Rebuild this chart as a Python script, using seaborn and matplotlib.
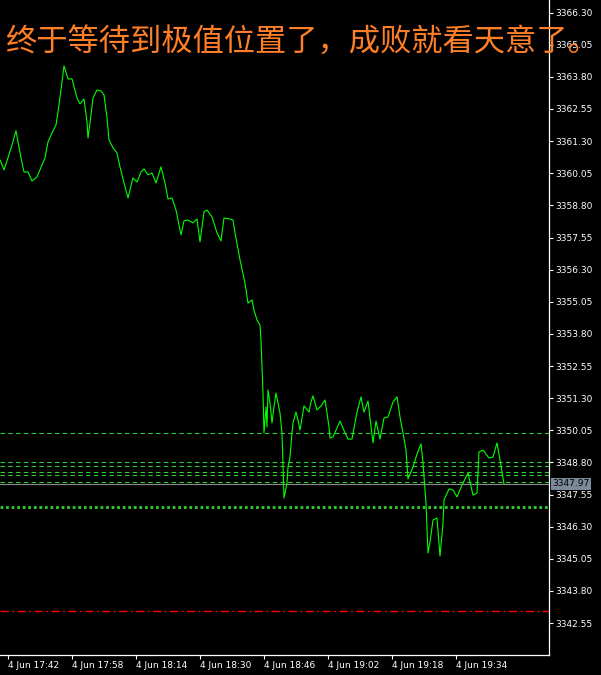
import pandas as pd
import matplotlib
matplotlib.use("Agg")
import matplotlib.pyplot as plt
import seaborn as sns

# price line (minutes after 4 Jun 17:40, price)
minutes = [0, 1, 2, 3, 4, 4.5, 5.25, 6, 7, 8, 9.25, 10.5, 11.25, 12, 13, 14, 14.5, 15.25, 16, 17,
           18, 19.25, 20, 21, 21.75, 22, 22.75, 23.25, 24.25, 25.25, 26, 26.75, 27.25, 28.25, 29.25, 30,
           31, 32, 33.25, 34.25, 35.25, 36, 37, 38, 39, 40.25, 41.25, 42, 43, 44, 45.25, 46, 47, 48.25,
           49.25, 50, 51, 51.75, 53, 54.25, 55.25, 56, 57.5, 58.25, 58.75, 60, 61.25, 62, 63, 63.5,
           64.25, 65, 65.25, 65.5, 65.75, 66, 66.25, 66.5, 66.75, 67, 67.5, 68, 68.5, 69, 69.5, 70,
           70.5, 70.75, 71, 71.75, 72, 72.5, 73, 73.25, 74, 74.5, 75, 76, 77.25, 77.75, 78.25, 79.25,
           80.25, 81.25, 81.75, 82.25, 82.5, 83.25, 85, 86.25, 87, 88, 89.25, 90.25, 91, 92, 93.25, 94,
           95, 96, 97, 98.25, 99.25, 100, 100.75, 101.5, 102, 103.25, 104.25, 105.25, 105.75, 106.5,
           107, 107.5, 108.25, 109.25, 109.75, 110, 110.75, 111, 112.25, 113.25, 114.25, 115.5, 117,
           118.25, 119.25, 119.75, 120.75, 122.25, 123.25, 124.25, 125, 126]
prices = [3360.57, 3360.18, 3360.65, 3361.15, 3361.70, 3361.27, 3360.65, 3360.10, 3360.10, 3359.75,
          3359.91, 3360.37, 3360.65, 3361.27, 3361.62, 3361.93, 3362.44, 3363.29, 3364.23, 3363.72,
          3363.72, 3362.98, 3362.75, 3362.94, 3362.05, 3361.42, 3362.32, 3362.98, 3363.29, 3363.25,
          3363.10, 3362.20, 3361.35, 3361.04, 3360.84, 3360.30, 3359.67, 3359.09, 3359.87, 3359.71,
          3360.10, 3360.22, 3359.99, 3360.06, 3359.67, 3360.30, 3359.67, 3359.05, 3359.09, 3358.62,
          3357.65, 3358.20, 3358.23, 3358.12, 3358.27, 3357.38, 3358.55, 3358.62, 3358.35, 3357.73,
          3357.42, 3358.31, 3358.27, 3358.23, 3357.73, 3356.68, 3355.78, 3355.00, 3355.12, 3354.73,
          3354.34, 3354.15, 3353.56, 3352.51, 3351.50, 3349.95, 3350.45, 3350.96, 3350.18, 3351.62,
          3351.11, 3350.34, 3350.96, 3351.50, 3351.11, 3350.72, 3349.95, 3348.62, 3347.42, 3348.00,
          3348.62, 3349.01, 3349.95, 3350.34, 3350.76, 3350.45, 3350.06, 3351.00, 3350.76, 3351.15,
          3351.39, 3350.84, 3351.00, 3351.23, 3350.72, 3350.18, 3349.75, 3349.79, 3350.41, 3349.95,
          3349.71, 3349.71, 3350.76, 3351.35, 3350.76, 3351.19, 3349.56, 3350.41, 3349.71, 3350.53,
          3350.57, 3351.15, 3351.35, 3350.57, 3349.95, 3349.28, 3348.16, 3348.62, 3349.13, 3349.52,
          3348.78, 3347.22, 3345.28, 3345.71, 3346.56, 3346.64, 3345.67, 3345.16, 3346.44, 3347.34,
          3347.77, 3347.73, 3347.46, 3347.92, 3348.39, 3347.53, 3347.61, 3349.21, 3349.28, 3348.97,
          3349.01, 3349.56, 3348.90, 3347.97]

# horizontal levels drawn on the chart
dashed_levels = [3349.95, 3348.81, 3348.66, 3348.42, 3348.31, 3348.03]
dotted_level = 3347.08
stop_level = 3343.02
last_price = 3347.97

y_ticks = [3366.30, 3365.05, 3363.80, 3362.55, 3361.30, 3360.05, 3358.80, 3357.55, 3356.30, 3355.05,
           3353.80, 3352.55, 3351.30, 3350.05, 3348.80, 3347.55, 3346.30, 3345.05, 3343.80, 3342.55]
x_labels = ["4 Jun 17:42", "4 Jun 17:58", "4 Jun 18:14", "4 Jun 18:30",
            "4 Jun 18:46", "4 Jun 19:02", "4 Jun 19:18", "4 Jun 19:34"]
title = "终于等待到极值位置了，成败就看天意了。"

df = pd.DataFrame({"minute": minutes, "price": prices})

sns.set_style("dark", {"axes.facecolor": "black", "figure.facecolor": "black"})
plt.rcParams["font.family"] = ["DejaVu Sans"]

fig = plt.figure(figsize=(6.01, 6.75), dpi=100, facecolor="black")
ax = fig.add_axes([0, 20 / 675, 549 / 601, 655 / 675])
ax.set_facecolor("black")

for lvl in dashed_levels:
    ax.axhline(lvl, color="#32cd32", lw=0.8, ls=(0, (4, 3)))
ax.axhline(dotted_level, color="#32cd32", lw=2.0, ls=(0, (1.0, 1.0)))
ax.axhline(stop_level, color="#ff0000", lw=1.0, ls=(0, (6, 2.5, 1.2, 2.5)))
ax.axhline(last_price, color="#8c8c8c", lw=0.8)

sns.lineplot(data=df, x="minute", y="price", ax=ax, color="#00ff00", lw=0.8,
             estimator=None, sort=False)

ax.set_xlim(0, 137.25)
ax.set_ylim(3341.31, 3366.79)
ax.set_xlabel("")
ax.set_ylabel("")
ax.grid(False)

# y axis on the right
ax.yaxis.tick_right()
ax.set_yticks(y_ticks)
ax.set_yticklabels([f"{v:.2f}" for v in y_ticks])

# x ticks from label times
x_pos = []
for lab in x_labels:
    hh, mm = lab.split()[-1].split(":")
    x_pos.append((int(hh) - 17) * 60 + int(mm) - 40)
ax.set_xticks(x_pos)
ax.set_xticklabels(x_labels)
for t in ax.get_xticklabels():
    t.set_ha("left")

ax.tick_params(colors="white", length=3, width=0.8, labelsize=6.5, pad=1.5)
ax.tick_params(axis="y", right=True, left=False)
ax.tick_params(axis="x", bottom=True)

for side in ["left", "top"]:
    ax.spines[side].set_visible(False)
for side in ["right", "bottom"]:
    ax.spines[side].set_visible(True)
    ax.spines[side].set_color("white")
    ax.spines[side].set_linewidth(0.9)

# last price box
ax.text(1.006, last_price, f"{last_price:.2f}", transform=ax.get_yaxis_transform(),
        fontsize=6.5, color="black", va="center", ha="left",
        bbox=dict(boxstyle="square,pad=0.15", fc="#7b8a99", ec="none"))

fig.text(5 / 601, 1 - 43 / 675, title, color="#ff7f27", fontsize=22.5,
         family=["Noto Sans CJK SC", "DejaVu Sans"], va="center", ha="left", zorder=5)

fig.savefig("out.png", dpi=100, facecolor="black")
